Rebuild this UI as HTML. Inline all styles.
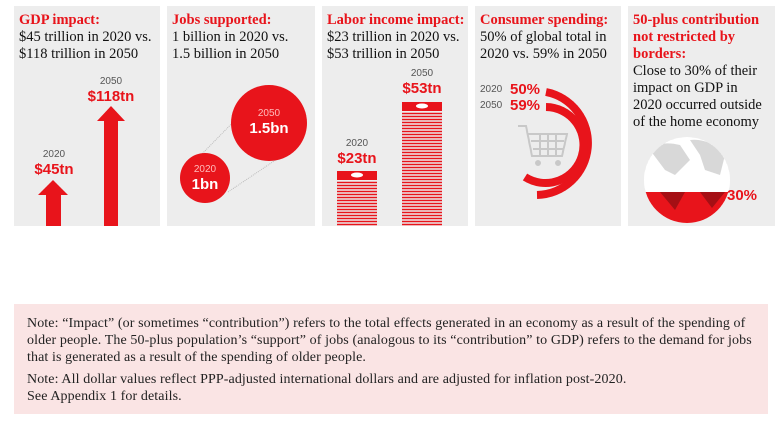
<!DOCTYPE html>
<html><head><meta charset="utf-8"><style>
body{margin:0;width:780px;height:422px;background:#fff;position:relative;overflow:hidden;font-family:"Liberation Serif",serif}
.p{position:absolute;top:6px;height:220px;background:#f3f3f3;background-image:radial-gradient(#dcdcdc 0.6px,transparent 0.7px);background-size:2px 2px}
.t{position:absolute;left:5px;top:6px;font-size:14.5px;line-height:17px;color:#111;white-space:nowrap}
.t b{color:#e8141b}
.s{position:absolute;font-family:"Liberation Sans",sans-serif;text-align:center}
.y{font-size:10px;color:#555}
.v{font-size:15px;font-weight:bold;color:#e8141b}
.note{position:absolute;left:14px;top:304px;width:754px;height:110px;background:#fcecec;background-image:radial-gradient(#f5cccc 0.6px,transparent 0.7px);background-size:2px 2px;font-size:14px;letter-spacing:0.1px;line-height:17px;color:#222;white-space:nowrap}
.note p{margin:0 0 5px 13px}
</style></head><body>
<div class="p" style="left:14px;width:146px">
<div class="t"><b>GDP impact:</b><br>$45 trillion in 2020 vs.<br>$118 trillion in 2050</div>
</div>
<div class="p" style="left:167px;width:148px">
<div class="t"><b>Jobs supported:</b><br>1 billion in 2020 vs.<br>1.5 billion in 2050</div>
</div>
<div class="p" style="left:322px;width:146px">
<div class="t"><b>Labor income impact:</b><br>$23 trillion in 2020 vs.<br>$53 trillion in 2050</div>
</div>
<div class="p" style="left:475px;width:146px">
<div class="t"><b>Consumer spending:</b><br>50% of global total in<br>2020 vs. 59% in 2050</div>
</div>
<div class="p" style="left:628px;width:147px">
<div class="t"><b>50-plus contribution<br>not restricted by<br>borders:</b><br>Close to 30% of their<br>impact on GDP in<br>2020 occurred outside<br>of the home economy</div>
</div>
<svg style="position:absolute;left:0;top:0" width="780" height="230">
<polygon points="53,180 68,195 61,195 61,226 46,226 46,195 38,195" fill="#e8141b"/>
<polygon points="111,106 125,121 118,121 118,226 104,226 104,121 97,121" fill="#e8141b"/>
<line x1="198" y1="158" x2="245" y2="110" stroke="#bbb" stroke-dasharray="1,1"/>
<line x1="228" y1="192" x2="283" y2="155" stroke="#bbb" stroke-dasharray="1,1"/>
<circle cx="269" cy="123" r="38" fill="#e8141b"/>
<circle cx="205" cy="178" r="25" fill="#e8141b"/>
<g fill="#e8141b">
<rect x="337" y="171" width="40" height="9"/>
<rect x="402" y="102" width="40" height="9"/>
</g>
<ellipse cx="357" cy="175" rx="6" ry="2.5" fill="#fff"/>
<ellipse cx="422" cy="106" rx="6" ry="2.5" fill="#fff"/>
<g stroke="#e8141b" stroke-width="1.6">
<path d="M337 182.5H377M337 185.5H377M337 188.5H377M337 191.5H377M337 194.5H377M337 197.5H377M337 200.5H377M337 203.5H377M337 206.5H377M337 209.5H377M337 212.5H377M337 215.5H377M337 218.5H377M337 221.5H377M337 224.5H377"/>
<path d="M402 113.5H442M402 116.5H442M402 119.5H442M402 122.5H442M402 125.5H442M402 128.5H442M402 131.5H442M402 134.5H442M402 137.5H442M402 140.5H442M402 143.5H442M402 146.5H442M402 149.5H442M402 152.5H442M402 155.5H442M402 158.5H442M402 161.5H442M402 164.5H442M402 167.5H442M402 170.5H442M402 173.5H442M402 176.5H442M402 179.5H442M402 182.5H442M402 185.5H442M402 188.5H442M402 191.5H442M402 194.5H442M402 197.5H442M402 200.5H442M402 203.5H442M402 206.5H442M402 209.5H442M402 212.5H442M402 215.5H442M402 218.5H442M402 221.5H442M402 224.5H442"/>
</g>
<path d="M546 92 A52 52 0 0 1 537 195" fill="none" stroke="#e8141b" stroke-width="8"/>
<path d="M546 107 A38 38 0 1 1 525 177" fill="none" stroke="#e8141b" stroke-width="8"/>
<g fill="none" stroke="#c8c8c8" stroke-width="2">
<path d="M518 126h8l6 30h30l5-22h-39"/>
<path d="M531 141h33M533 149h30M540 134v22M548 134v22M556 134v22"/>
</g>
<circle cx="538" cy="163" r="3" fill="#c8c8c8"/><circle cx="558" cy="163" r="3" fill="#c8c8c8"/>
<defs><clipPath id="g"><circle cx="687" cy="180" r="43"/></clipPath></defs>
<circle cx="687" cy="180" r="43" fill="#fff"/>
<g clip-path="url(#g)">
<path d="M650 150 Q660 140 680 145 L690 160 L675 175 L665 170 Z M690 140 Q710 138 725 155 L720 175 L705 170 L700 155 Z" fill="#d8d8d8"/>
<rect x="640" y="192" width="100" height="40" fill="#e8141b"/>
<path d="M660 192 L685 192 L675 210 Z M700 192 L725 192 L712 208 Z" fill="#a50f14"/>
</g>
</svg>
<div class="s y" style="left:91px;top:76px;width:40px">2050</div>
<div class="s v" style="left:76px;top:88px;width:70px">$118tn</div>
<div class="s y" style="left:34px;top:149px;width:40px">2020</div>
<div class="s v" style="left:19px;top:161px;width:70px">$45tn</div>
<div class="s y" style="left:249px;top:108px;width:40px;color:#fbb">2050</div>
<div class="s v" style="left:234px;top:120px;width:70px;color:#fff">1.5bn</div>
<div class="s y" style="left:185px;top:164px;width:40px;color:#fbb">2020</div>
<div class="s v" style="left:170px;top:176px;width:70px;color:#fff">1bn</div>
<div class="s y" style="left:402px;top:68px;width:40px">2050</div>
<div class="s v" style="left:387px;top:80px;width:70px">$53tn</div>
<div class="s y" style="left:337px;top:138px;width:40px">2020</div>
<div class="s v" style="left:322px;top:150px;width:70px">$23tn</div>
<div class="s y" style="left:480px;top:84px;text-align:left">2020</div>
<div class="s v" style="left:510px;top:81px;text-align:left">50%</div>
<div class="s y" style="left:480px;top:100px;text-align:left">2050</div>
<div class="s v" style="left:510px;top:97px;text-align:left">59%</div>
<div class="s v" style="left:727px;top:187px;text-align:left">30%</div>
<div class="note"><div style="height:11px"></div>
<p>Note: “Impact” (or sometimes “contribution”) refers to the total effects generated in an economy as a result of the spending of<br>older people. The 50-plus population’s “support” of jobs (analogous to its “contribution” to GDP) refers to the demand for jobs<br>that is generated as a result of the spending of older people.</p>
<p>Note: All dollar values reflect PPP-adjusted international dollars and are adjusted for inflation post-2020.<br>See Appendix 1 for details.</p>
</div>
</body></html>
